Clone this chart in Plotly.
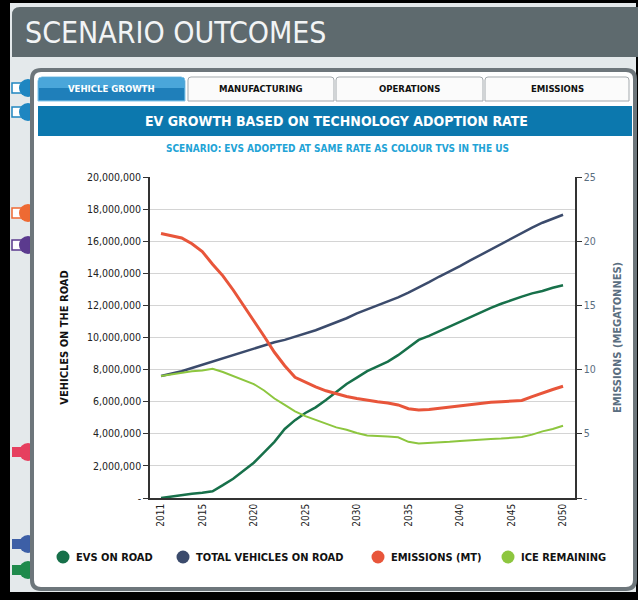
import plotly.graph_objects as go

years = list(range(2011, 2051))
evs_on_road = [0.0, 0.1, 0.18, 0.26, 0.33, 0.42, 0.8, 1.2, 1.7, 2.2,
               2.85, 3.5, 4.3, 4.85, 5.3, 5.65, 6.1, 6.6, 7.1, 7.5,
               7.9, 8.2, 8.5, 8.9, 9.4, 9.85, 10.1, 10.4, 10.7, 11.0,
               11.25, 11.55, 11.85, 12.1, 12.35, 12.55, 12.75, 12.9, 13.1, 13.25]
total_vehicles = [7.6, 7.75, 7.9, 8.1, 8.3, 8.5, 8.7, 8.9, 9.1, 9.3,
                  9.5, 9.7, 9.85, 10.05, 10.25, 10.45, 10.7, 10.95, 11.2, 11.5,
                  11.75, 12.0, 12.2, 12.5, 12.8, 13.1, 13.45, 13.8, 14.1, 14.45,
                  14.8, 15.15, 15.5, 15.85, 16.2, 16.55, 16.85, 17.15, 17.4, 17.65]
ice_remaining = [7.6, 7.7, 7.8, 7.9, 7.95, 8.05, 7.85, 7.6, 7.35, 7.1,
                 6.7, 6.2, 5.8, 5.4, 5.1, 4.85, 4.6, 4.4, 4.25, 4.05,
                 3.9, 3.88, 3.83, 3.78, 3.5, 3.4, 3.42, 3.45, 3.5, 3.55,
                 3.6, 3.62, 3.67, 3.7, 3.75, 3.8, 3.95, 4.15, 4.3, 4.5]
emissions_mt = [20.6, 20.4, 20.25, 19.8, 19.2, 18.2, 17.3, 16.2, 15.0, 13.9,
                12.6, 11.35, 10.3, 9.4, 9.0, 8.65, 8.35, 8.1, 7.9, 7.75,
                7.6, 7.5, 7.4, 7.25, 6.95, 6.85, 6.9, 7.0, 7.1, 7.2,
                7.3, 7.35, 7.45, 7.5, 7.55, 7.6, 7.9, 8.2, 8.45, 8.7]

x_tick_vals = [2011, 2015, 2020, 2025, 2030, 2035, 2040, 2045, 2050]
y_tick_vals = [0, 2e6, 4e6, 6e6, 8e6, 10e6, 12e6, 14e6, 16e6, 18e6, 20e6]
y_tick_text = ["-", "2,000,000", "4,000,000", "6,000,000", "8,000,000", "10,000,000",
               "12,000,000", "14,000,000", "16,000,000", "18,000,000", "20,000,000"]
y2_tick_vals = [0, 5, 10, 15, 20, 25]
y2_tick_text = ["-", "5", "10", "15", "20", "25"]

series_names = ["EVS ON ROAD", "TOTAL VEHICLES ON ROAD", "EMISSIONS (MT)", "ICE REMAINING"]
series_colors = ["#17704a", "#3b4b6c", "#e8553a", "#8dc63f"]

W, H = 638, 600
L, R, T, B = 150, 63, 177, 102
PW, PH = W - L - R, H - T - B
FONT = "DejaVu Sans Condensed, Liberation Sans Narrow, Arial Narrow, sans-serif"

def px(x):
    return (x - L) / PW

def py(y):
    return (H - B - y) / PH

def rrect_path(x0, y0, x1, y1, r, tl=True, tr=True, br=True, bl=True):
    def P(x, y):
        return f"{px(x):.5f},{py(y):.5f}"
    s = "M " + (P(x0 + r, y0) if tl else P(x0, y0))
    s += " L " + (P(x1 - r, y0) if tr else P(x1, y0))
    if tr:
        s += " Q " + P(x1, y0) + " " + P(x1, y0 + r)
    s += " L " + (P(x1, y1 - r) if br else P(x1, y1))
    if br:
        s += " Q " + P(x1, y1) + " " + P(x1 - r, y1)
    s += " L " + (P(x0 + r, y1) if bl else P(x0, y1))
    if bl:
        s += " Q " + P(x0, y1) + " " + P(x0, y1 - r)
    s += " L " + (P(x0, y0 + r) if tl else P(x0, y0))
    if tl:
        s += " Q " + P(x0, y0) + " " + P(x0 + r, y0)
    return s + " Z"

shapes = []
def rect(x0, y0, x1, y1, fill, line=None, lw=0, layer="below"):
    shapes.append(dict(type="rect", xref="paper", yref="paper",
                       x0=px(x0), x1=px(x1), y0=py(y1), y1=py(y0),
                       fillcolor=fill, line=dict(color=line or fill, width=lw), layer=layer))

def path(d, fill, line=None, lw=0, layer="below"):
    shapes.append(dict(type="path", xref="paper", yref="paper", path=d,
                       fillcolor=fill, line=dict(color=line or fill, width=lw), layer=layer))

def circle(cx, cy, r, fill, layer="below"):
    shapes.append(dict(type="circle", xref="paper", yref="paper",
                       x0=px(cx - r), x1=px(cx + r), y0=py(cy + r), y1=py(cy - r),
                       fillcolor=fill, line=dict(color=fill, width=0), layer=layer))

# outer light background
rect(10, 3, 636, 592, "#e4e9eb")
# header bar
path(rrect_path(12, 7, 638, 57, 8, tr=False, br=False, bl=False), "#5e6a6e")

# left decorations
for cy, col, sq in [(88, "#1f86c1", True), (112, "#1f86c1", True),
                    (213, "#ee6a33", True), (245, "#5b3a8e", True),
                    (452, "#e6405f", False), (544, "#3d5fa6", False), (570, "#1f8a4c", False)]:
    if sq:
        rect(12, cy - 5, 24, cy + 5, "#ffffff", line=col, lw=1.5)
    else:
        rect(12, cy - 5, 24, cy + 5, col)
    circle(28, cy, 9, col)

# panel
path(rrect_path(32, 70, 635, 589, 9), "#ffffff", line="#6d767b", lw=4)

# tabs
path(rrect_path(38, 77, 185, 101, 4, br=False, bl=False), "#2a8cc6", line="#7fc3e8", lw=1)
rect(39, 78, 184, 88, "#4aa6da")
rect(39, 88, 184, 100, "#1f7fba")
for x0, x1 in [(188, 334), (336, 483), (485, 629)]:
    path(rrect_path(x0, 77, x1, 101, 3, br=False, bl=False), "#fbfbfb", line="#a3a9ad", lw=1)

# title bar
rect(38, 106, 632, 136, "#0c78ae")

annotations = []
def text(x, y, s, size, color, bold=False, anchor="center", angle=0):
    annotations.append(dict(xref="paper", yref="paper", x=px(x), y=py(y), text=(f"<b>{s}</b>" if bold else s),
                            showarrow=False, xanchor=anchor, yanchor="middle", textangle=angle,
                            font=dict(family=FONT, size=size, color=color)))

text(23, 33, "SCENARIO OUTCOMES", 30, "#f2f4f5", anchor="left")
text(111, 89, "VEHICLE GROWTH", 9.5, "#ffffff", bold=True)
text(261, 89, "MANUFACTURING", 9.5, "#111111", bold=True)
text(409, 89, "OPERATIONS", 9.5, "#111111", bold=True)
text(557, 89, "EMISSIONS", 9.5, "#111111", bold=True)
text(336, 121, "EV GROWTH BASED ON TECHNOLOGY ADOPTION RATE", 14, "#ffffff", bold=True)
text(337, 148, "SCENARIO: EVS ADOPTED AT SAME RATE AS COLOUR TVS IN THE US", 10, "#22a3d6", bold=True)

# legend (manual)
legend_x = [63, 183, 378, 508]
for lx, name, col in zip(legend_x, series_names, series_colors):
    circle(lx, 557, 6.5, col, layer="above")
    text(lx + 11, 557, name, 11, "#111111", bold=True, anchor="left")

fig = go.Figure()
fig.add_trace(go.Scatter(x=years, y=[v * 1e6 for v in evs_on_road], name=series_names[0],
                         mode="lines", line=dict(color=series_colors[0], width=2.5), showlegend=False))
fig.add_trace(go.Scatter(x=years, y=[v * 1e6 for v in total_vehicles], name=series_names[1],
                         mode="lines", line=dict(color=series_colors[1], width=2.5), showlegend=False))
fig.add_trace(go.Scatter(x=years, y=emissions_mt, name=series_names[2], yaxis="y2",
                         mode="lines", line=dict(color=series_colors[2], width=3), showlegend=False))
fig.add_trace(go.Scatter(x=years, y=[v * 1e6 for v in ice_remaining], name=series_names[3],
                         mode="lines", line=dict(color=series_colors[3], width=2), showlegend=False))

fig.update_layout(
    width=W, height=H,
    margin=dict(l=L, r=R, t=T, b=B, autoexpand=False),
    paper_bgcolor="#000000", plot_bgcolor="rgba(0,0,0,0)",
    font=dict(family=FONT, size=10, color="#111111"),
    showlegend=False,
    shapes=shapes, annotations=annotations,
    xaxis=dict(range=[2009.93, 2051.16], tickvals=x_tick_vals, ticktext=[str(v) for v in x_tick_vals],
               tickangle=-90, showgrid=False, zeroline=False, showline=True, linecolor="#333333",
               linewidth=1.5, ticks="", tickfont=dict(family=FONT, size=10, color="#222222")),
    yaxis=dict(range=[0, 20e6], tickvals=y_tick_vals, ticktext=y_tick_text, showgrid=True,
               gridcolor="#d4d4d4", gridwidth=1, zeroline=False, showline=True, linecolor="#333333",
               linewidth=1.5, ticks="outside", ticklen=5, tickcolor="#333333",
               tickfont=dict(family=FONT, size=10.5, color="#222222"),
               title=dict(text="<b>VEHICLES ON THE ROAD</b>", font=dict(family=FONT, size=11, color="#111111"), standoff=16)),
    yaxis2=dict(range=[0, 25], overlaying="y", side="right", tickvals=y2_tick_vals, ticktext=y2_tick_text,
                showgrid=False, zeroline=False, showline=True, linecolor="#333333", linewidth=1.5,
                ticks="outside", ticklen=5, tickcolor="#333333",
                tickfont=dict(family=FONT, size=10.5, color="#5a6e80"),
                title=dict(text="<b>EMISSIONS (MEGATONNES)</b>", font=dict(family=FONT, size=11, color="#5a6e80"), standoff=18)),
)

fig.write_html("out.html", config={"displayModeBar": False},
               post_script="document.body.style.margin='0';document.body.style.overflow='hidden';")
